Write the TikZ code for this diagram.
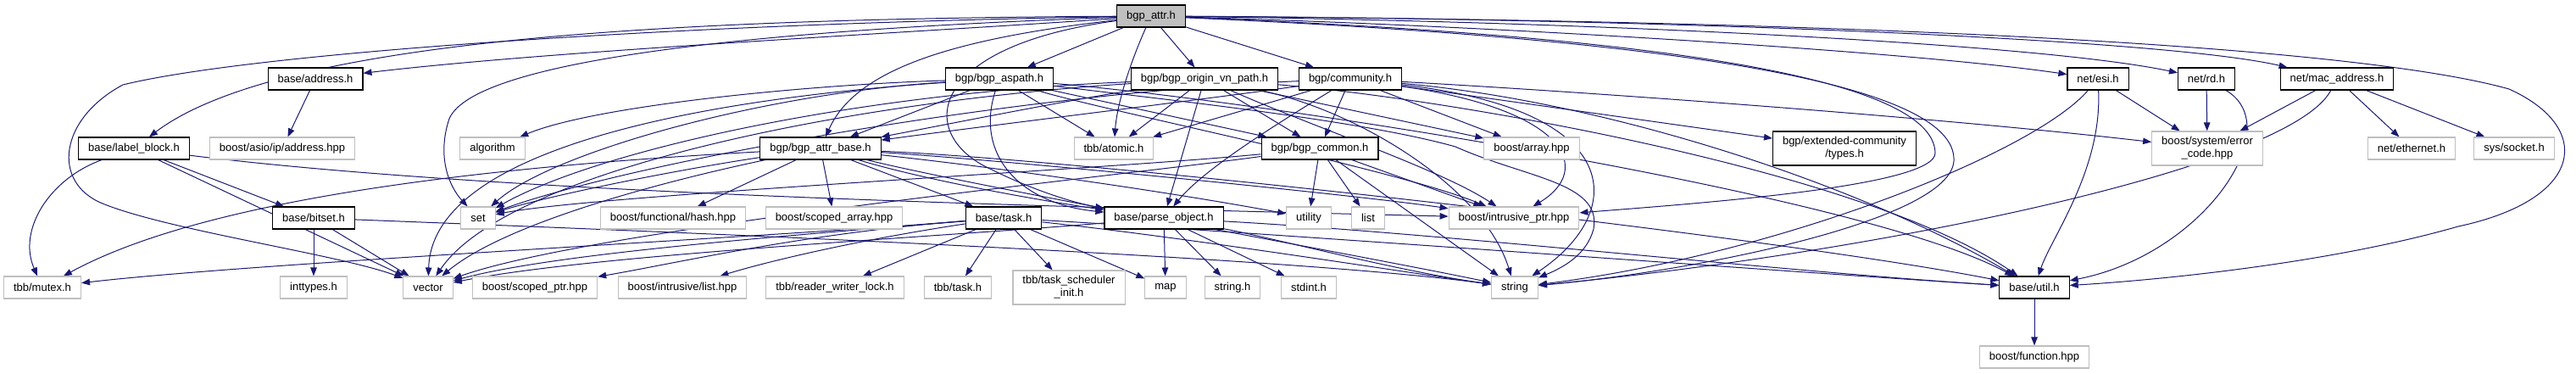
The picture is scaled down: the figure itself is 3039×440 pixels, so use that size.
\documentclass[tikz,border=0pt]{standalone}
\usepackage{fontspec}
\setmainfont{Liberation Sans}
\usetikzlibrary{arrows.meta,backgrounds}
\definecolor{edgeblue}{HTML}{191970}
\definecolor{extgray}{HTML}{BFBFBF}

\begin{document}
\begin{tikzpicture}[
  x=1pt, y=-1pt,
  hdr/.style={rectangle, draw=black, line width=1.1pt, fill=white,
              minimum height=26pt, inner xsep=11.5pt, inner ysep=2pt,
              font=\fontsize{13}{15}\selectfont, align=center},
  ext/.style={hdr, draw=extgray},
  top/.style={hdr, fill=extgray},
  edge/.style={draw=edgeblue, line width=1pt,
               -{Triangle[length=10pt,width=7.5pt]}}
]
\useasboundingbox (0,0) rectangle (3039,440);
% row 1
\node[top] (root) at (1358,19) {bgp\_attr.h};
% row 2
\node[hdr] (addr) at (372,93) {base/address.h};
\node[hdr] (aspath) at (1179,93) {bgp/bgp\_aspath.h};
\node[hdr] (originvn) at (1421,93) {bgp/bgp\_origin\_vn\_path.h};
\node[hdr] (community) at (1593,93) {bgp/community.h};
\node[hdr] (esi) at (2475,93) {net/esi.h};
\node[hdr] (rd) at (2603,93) {net/rd.h};
\node[hdr] (mac) at (2757,93) {net/mac\_address.h};
% row 3
\node[hdr] (labelblock) at (158,175) {base/label\_block.h};
\node[ext] (asio) at (333,175) {boost/asio/ip/address.hpp};
\node[ext] (algorithm) at (581,175) {algorithm};
\node[hdr] (attrbase) at (968,175) {bgp/bgp\_attr\_base.h};
\node[ext] (atomic) at (1314,175) {tbb/atomic.h};
\node[hdr] (common) at (1557,175) {bgp/bgp\_common.h};
\node[ext] (array) at (1807,175) {boost/array.hpp};
\node[hdr, minimum height=40pt] (extcomm) at (2176,175) {bgp/extended-community\\/types.h};
\node[ext, minimum height=40pt] (errcode) at (2604,175) {boost/system/error\\\_code.hpp};
\node[ext] (ethernet) at (2845,175) {net/ethernet.h};
\node[ext] (socket) at (2966,175) {sys/socket.h};
% row 4
\node[hdr] (bitset) at (370,257) {base/bitset.h};
\node[ext] (set) at (564,257) {set};
\node[ext] (hash) at (794,257) {boost/functional/hash.hpp};
\node[ext] (scopedarray) at (984,257) {boost/scoped\_array.hpp};
\node[hdr] (task) at (1184,257) {base/task.h};
\node[hdr] (parse) at (1373,257) {base/parse\_object.h};
\node[ext] (utility) at (1544,257) {utility};
\node[ext] (list) at (1614,257) {list};
\node[ext] (intrusiveptr) at (1786,257) {boost/intrusive\_ptr.hpp};
% row 5
\node[ext] (mutex) at (50,339) {tbb/mutex.h};
\node[ext] (inttypes) at (370,339) {inttypes.h};
\node[ext] (vector) at (505,339) {vector};
\node[ext] (scopedptr) at (631,339) {boost/scoped\_ptr.hpp};
\node[ext] (ilist) at (805,339) {boost/intrusive/list.hpp};
\node[ext] (rwlock) at (985,339) {tbb/reader\_writer\_lock.h};
\node[ext] (tbbtask) at (1130,339) {tbb/task.h};
\node[ext, minimum height=40pt] (tsinit) at (1261,339) {tbb/task\_scheduler\\\_init.h};
\node[ext] (map) at (1375,339) {map};
\node[ext] (stringh) at (1454,339) {string.h};
\node[ext] (stdint) at (1544,339) {stdint.h};
\node[ext] (string) at (1787,339) {string};
\node[hdr] (util) at (2400,339) {base/util.h};
% row 6
\node[ext] (function) at (2400,421) {boost/function.hpp};

\begin{pgfonlayer}{background}
% bgp_attr.h
\draw[edge] (root) .. controls (1050,40) and (650,60) .. (addr);
\draw[edge] (root) .. controls (800,22) and (330,45) .. (labelblock);
\draw[edge] (root) .. controls (800,28) and (300,62) .. (145,100)
  .. controls (70,140) and (60,215) .. (121,240)
  .. controls (200,272) and (400,300) .. (vector);
\draw[edge] (root) .. controls (900,35) and (560,70) .. (530,140)
  .. controls (515,185) and (530,220) .. (set);
\draw[edge] (root) -- (aspath);
\draw[edge] (root) .. controls (1335,70) and (1318,120) .. (atomic);
\draw[edge] (root) -- (originvn);
\draw[edge] (root) -- (community);
\draw[edge] (root) .. controls (1130,45) and (1010,80) .. (attrbase);
\draw[edge] (root) .. controls (1090,55) and (1080,160) .. (1170,200)
  .. controls (1220,225) and (1270,240) .. (parse);
\draw[edge] (root) .. controls (1750,30) and (2250,60) .. (esi);
\draw[edge] (root) .. controls (1850,25) and (2400,50) .. (rd);
\draw[edge] (root) .. controls (1950,22) and (2550,45) .. (mac);
\draw[edge] (root) .. controls (2300,25) and (2800,60) .. (2960,105)
  .. controls (3060,150) and (3050,235) .. (2900,267)
  .. controls (2750,310) and (2550,330) .. (util);
\draw[edge] (root) .. controls (1900,40) and (2280,85) .. (2283,180)
  .. controls (2285,220) and (2000,240) .. (intrusiveptr);
\draw[edge] (root) .. controls (1950,45) and (2310,95) .. (2305,190)
  .. controls (2300,260) and (2000,320) .. (string);

% bgp_aspath.h
\draw[edge] (aspath) .. controls (950,100) and (700,125) .. (algorithm);
\draw[edge] (aspath) .. controls (900,110) and (650,180) .. (set);
\draw[edge] (aspath) .. controls (850,115) and (510,170) .. (vector);
\draw[edge] (aspath) -- (attrbase);
\draw[edge] (aspath) -- (atomic);
\draw[edge] (aspath) .. controls (1150,180) and (1200,240) .. (parse);
\draw[edge] (aspath) .. controls (1350,115) and (1600,140) .. (1717,173)
  .. controls (1800,210) and (1890,215) .. (1880,270)
  .. controls (1872,300) and (1845,315) .. (string);
\draw[edge] (aspath) .. controls (1300,130) and (1650,200) .. (intrusiveptr);
\draw[edge] (aspath) -- (common);
\draw[edge] (aspath) .. controls (1500,120) and (2200,230) .. (util);

% bgp_origin_vn_path.h
\draw[edge] (originvn) -- (atomic);
\draw[edge] (originvn) -- (parse);
\draw[edge] (originvn) .. controls (1250,120) and (1100,150) .. (attrbase);
\draw[edge] (originvn) .. controls (1000,110) and (700,180) .. (set);
\draw[edge] (originvn) .. controls (1000,120) and (600,200) .. (vector);
\draw[edge] (originvn) .. controls (1550,150) and (1700,200) .. (intrusiveptr);
\draw[edge] (originvn) .. controls (1600,130) and (1750,220) .. (string);
\draw[edge] (originvn) -- (common);
\draw[edge] (originvn) .. controls (1700,115) and (2200,200) .. (util);
\draw[edge] (originvn) -- (array);

% community.h
\draw[edge] (community) -- (common);
\draw[edge] (community) -- (array);
\draw[edge] (community) -- (extcomm);
\draw[edge] (community) -- (atomic);
\draw[edge] (community) .. controls (1400,120) and (1150,150) .. (attrbase);
\draw[edge] (community) .. controls (1500,150) and (1420,200) .. (parse);
\draw[edge] (community) .. controls (1200,110) and (750,190) .. (set);
\draw[edge] (community) .. controls (1850,130) and (1880,200) .. (intrusiveptr);
\draw[edge] (community) .. controls (1920,130) and (1920,250) .. (string);
\draw[edge] (community) .. controls (1900,120) and (2200,220) .. (util);
\draw[edge] (community) .. controls (1900,110) and (2300,140) .. (errcode);

% net
\draw[edge] (esi) -- (errcode);
\draw[edge] (esi) .. controls (2480,200) and (2420,280) .. (util);
\draw[edge] (esi) .. controls (2400,180) and (2100,300) .. (string);
\draw[edge] (rd) -- (errcode);
\draw[edge] (rd) .. controls (2700,150) and (2600,300) .. (util);
\draw[edge] (mac) -- (errcode);
\draw[edge] (mac) -- (ethernet);
\draw[edge] (mac) -- (socket);
\draw[edge] (mac) .. controls (2700,200) and (2200,300) .. (string);
\draw[edge] (addr) -- (asio);

% label_block.h
\draw[edge] (labelblock) .. controls (60,210) and (20,270) .. (mutex);
\draw[edge] (labelblock) -- (vector);
\draw[edge] (labelblock) -- (bitset);
\draw[edge] (labelblock) .. controls (600,230) and (1300,245) .. (intrusiveptr);

% bgp_attr_base.h
\draw[edge] (attrbase) -- (hash);
\draw[edge] (attrbase) -- (scopedarray);
\draw[edge] (attrbase) -- (task);
\draw[edge] (attrbase) .. controls (1100,215) and (1250,240) .. (parse);
\draw[edge] (attrbase) .. controls (600,195) and (250,230) .. (mutex);
\draw[edge] (attrbase) .. controls (800,200) and (650,230) .. (set);
\draw[edge] (attrbase) .. controls (800,210) and (600,260) .. (vector);
\draw[edge] (attrbase) .. controls (1200,200) and (1400,230) .. (utility);
\draw[edge] (attrbase) .. controls (1200,190) and (1600,230) .. (intrusiveptr);
\draw[edge] (attrbase) .. controls (1150,220) and (1600,300) .. (string);
\draw[edge] (attrbase) .. controls (1300,190) and (2100,280) .. (util);

% bgp_common.h
\draw[edge] (common) -- (utility);
\draw[edge] (common) -- (list);
\draw[edge] (common) -- (string);
\draw[edge] (common) -- (intrusiveptr);
\draw[edge] (common) .. controls (1300,200) and (700,230) .. (set);
\draw[edge] (common) .. controls (1300,210) and (700,270) .. (vector);

% bitset.h
\draw[edge] (bitset) -- (inttypes);
\draw[edge] (bitset) -- (vector);
\draw[edge] (bitset) .. controls (700,270) and (1500,300) .. (string);

% task.h
\draw[edge] (task) .. controls (900,280) and (300,310) .. (mutex);
\draw[edge] (task) .. controls (900,280) and (650,300) .. (vector);
\draw[edge] (task) .. controls (950,275) and (800,310) .. (scopedptr);
\draw[edge] (task) .. controls (1000,285) and (900,310) .. (ilist);
\draw[edge] (task) -- (rwlock);
\draw[edge] (task) -- (tbbtask);
\draw[edge] (task) -- (tsinit);
\draw[edge] (task) -- (map);
\draw[edge] (task) .. controls (1400,280) and (1650,320) .. (string);
\draw[edge] (task) .. controls (1500,275) and (2100,320) .. (util);

% parse_object.h
\draw[edge] (parse) -- (map);
\draw[edge] (parse) -- (stringh);
\draw[edge] (parse) -- (stdint);
\draw[edge] (parse) .. controls (1500,280) and (1650,320) .. (string);
\draw[edge] (parse) .. controls (1100,280) and (700,300) .. (vector);
\draw[edge] (parse) .. controls (1700,275) and (2100,320) .. (util);

\draw[edge] (util) -- (function);
\end{pgfonlayer}
\end{tikzpicture}
\end{document}
